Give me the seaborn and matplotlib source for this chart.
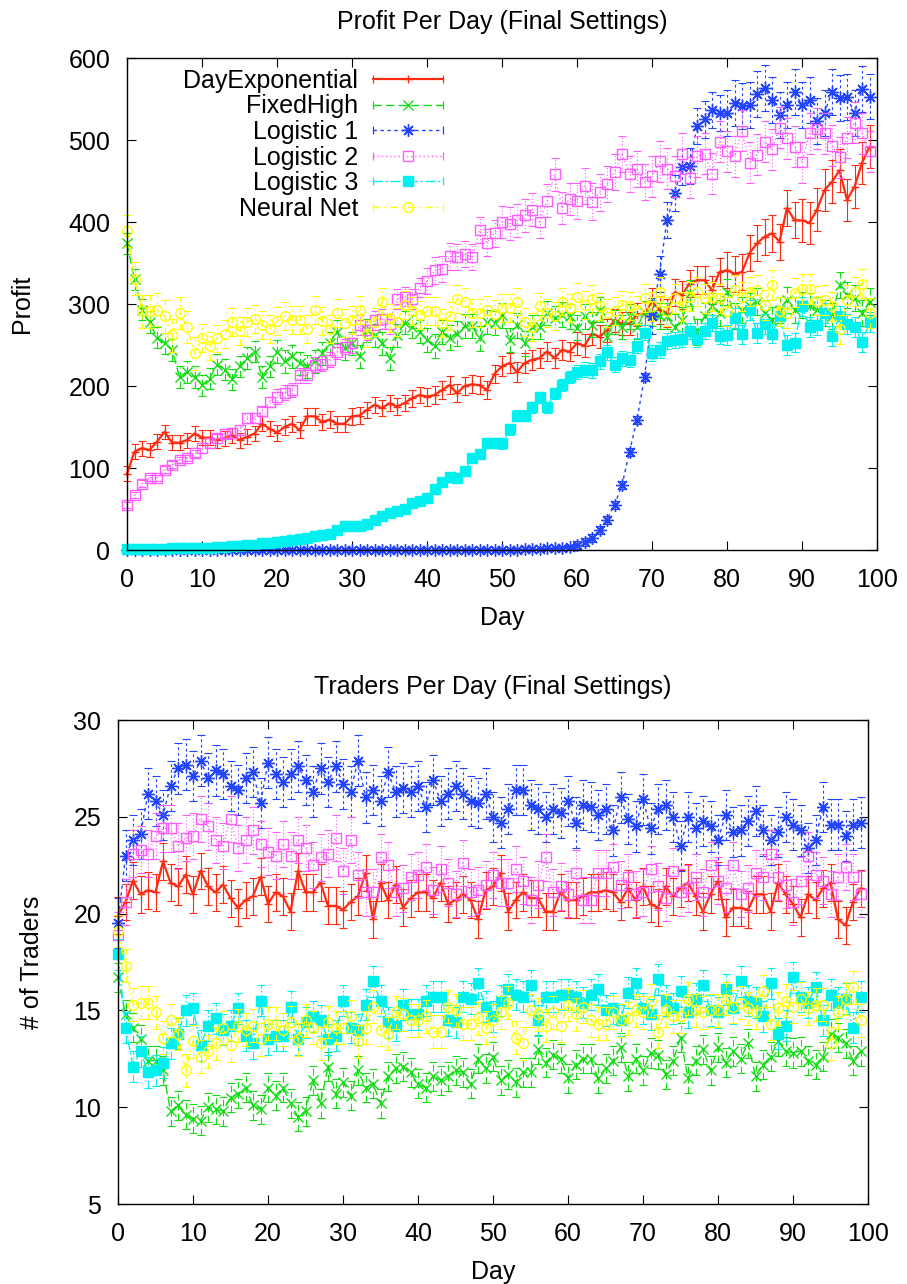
import numpy as np
import pandas as pd
import matplotlib
matplotlib.use("Agg")
import matplotlib.pyplot as plt
import seaborn as sns
from matplotlib.lines import Line2D
from matplotlib.legend_handler import HandlerBase

# ---------------- data ----------------
days = list(range(100))
series_names = ["DayExponential", "FixedHigh", "Logistic 1", "Logistic 2", "Logistic 3", "Neural Net"]

profit_dayexp = [93, 120, 124, 122, 132, 144, 131, 131, 134, 142,
                 137, 137, 134, 136, 140, 134, 138, 142, 154, 148,
                 143, 150, 154, 146, 163, 163, 156, 159, 154, 154,
                 163, 164, 171, 177, 173, 179, 175, 179, 185, 189,
                 187, 189, 195, 201, 191, 200, 202, 201, 195, 215,
                 224, 228, 217, 228, 232, 234, 242, 234, 244, 242,
                 252, 249, 264, 260, 268, 280, 276, 276, 287, 289,
                 303, 293, 289, 314, 311, 325, 329, 329, 317, 339,
                 341, 337, 339, 362, 374, 382, 386, 376, 417, 402,
                 402, 399, 415, 439, 449, 463, 427, 443, 472, 492]
profit_fixedhigh = [374, 330, 293, 278, 259, 252, 244, 211, 217, 211,
                    201, 209, 226, 220, 208, 224, 234, 242, 211, 224,
                    242, 230, 236, 228, 224, 230, 240, 252, 266, 246,
                    252, 236, 268, 262, 252, 234, 262, 277, 272, 266,
                    256, 249, 266, 259, 264, 273, 273, 258, 278, 277,
                    286, 256, 274, 252, 272, 272, 289, 283, 287, 285,
                    271, 285, 275, 293, 260, 278, 272, 285, 272, 289,
                    289, 285, 285, 272, 280, 313, 266, 285, 297, 289,
                    315, 285, 293, 297, 303, 289, 280, 293, 305, 293,
                    299, 297, 293, 289, 285, 323, 311, 307, 289, 303]
profit_logistic1 = [0, 0, 0, 0, 0, 0, 0, 0, 0, 0,
                    0, 0, 0, 0, 0, 0, 0, 0, 0, 0,
                    0, 0, 0, 0, 0, 0, 0, 0, 0, 0,
                    0, 0, 0, 0, 0, 0, 0, 0, 0, 0,
                    0, 0, 0, 0, 0, 0, 0, 0, 0, 0,
                    0.5, 0.5, 0.5, 1, 1, 1, 2, 2, 3, 4,
                    6, 10, 15, 24, 37, 55, 79, 120, 159, 211,
                    285, 337, 402, 435, 467, 468, 517, 525, 537, 533,
                    533, 545, 541, 543, 556, 563, 549, 530, 543, 558,
                    543, 549, 523, 533, 559, 551, 552, 533, 562, 553]
profit_logistic2 = [55, 67, 81, 88, 88, 98, 104, 110, 112, 118,
                    124, 130, 136, 142, 143, 146, 161, 161, 169, 181,
                    187, 192, 195, 213, 213, 226, 227, 232, 242, 248,
                    252, 274, 268, 280, 282, 276, 306, 309, 306, 320,
                    328, 341, 343, 358, 357, 361, 357, 390, 375, 386,
                    400, 398, 402, 408, 415, 400, 426, 458, 417, 428,
                    426, 444, 425, 436, 446, 461, 483, 459, 465, 449,
                    456, 474, 465, 456, 483, 454, 480, 483, 459, 498,
                    486, 480, 511, 472, 482, 498, 489, 515, 502, 492,
                    473, 508, 514, 508, 493, 479, 503, 521, 508, 486]
profit_logistic3 = [1, 1, 1, 1, 1, 1, 2, 2, 2, 3,
                    3, 3, 4, 4, 5, 5, 6, 6, 8, 8,
                    10, 11, 12, 14, 15, 17, 18, 20, 24, 29,
                    29, 29, 32, 37, 41, 45, 47, 50, 57, 60,
                    63, 74, 83, 89, 88, 96, 112, 117, 130, 130,
                    130, 147, 164, 164, 174, 186, 174, 191, 201, 211,
                    217, 220, 219, 230, 241, 226, 234, 232, 249, 265,
                    240, 244, 255, 256, 257, 267, 257, 267, 277, 261,
                    262, 283, 263, 293, 265, 276, 264, 285, 250, 253,
                    297, 272, 274, 289, 261, 285, 276, 272, 254, 278]
profit_neural = [389, 331, 291, 291, 293, 285, 262, 289, 272, 240,
                 259, 249, 258, 263, 278, 267, 278, 282, 274, 269,
                 279, 285, 280, 280, 270, 293, 279, 270, 289, 277,
                 280, 293, 264, 278, 303, 283, 278, 299, 291, 287,
                 291, 291, 277, 285, 306, 303, 289, 289, 293, 288,
                 295, 295, 303, 278, 272, 297, 289, 285, 303, 295,
                 309, 299, 306, 297, 289, 291, 299, 298, 293, 307,
                 297, 315, 291, 307, 297, 309, 315, 307, 309, 307,
                 291, 317, 309, 315, 317, 299, 323, 291, 289, 314,
                 318, 318, 304, 305, 297, 269, 305, 315, 325, 289]

# error bar half-widths, one value per block of ten days
profit_err_dayexp = [9, 9, 10, 10, 11, 12, 14, 17, 22, 26]
profit_err_fixedhigh = [13, 13, 14, 14, 15, 15, 15, 16, 16, 16]
profit_err_logistic1 = [0, 0, 0, 0, 0, 0.5, 5, 22, 28, 28]
profit_err_logistic2 = [4, 6, 9, 12, 16, 20, 22, 25, 25, 25]
profit_err_logistic3 = [0.5, 1, 1.5, 3, 5, 7, 9, 10, 12, 12]
profit_err_neural = [20, 17, 17, 17, 17, 17, 17, 18, 18, 18]

traders_dayexp = [19.9, 20.6, 21.7, 21.0, 21.2, 21.1, 22.7, 21.6, 21.4, 22.0,
                  21.0, 22.2, 21.4, 21.1, 21.5, 20.8, 20.3, 20.7, 20.9, 21.9,
                  20.5, 21.1, 20.9, 20.1, 22.2, 21.1, 21.1, 21.6, 20.4, 20.4,
                  20.2, 20.6, 20.9, 22.1, 19.7, 21.6, 20.7, 21.5, 20.3, 20.8,
                  21.1, 21.1, 20.8, 21.6, 20.5, 20.7, 21.0, 20.7, 19.7, 21.2,
                  21.4, 22.1, 20.1, 20.7, 21.1, 20.8, 20.8, 20.1, 20.1, 21.1,
                  20.7, 20.7, 20.9, 21.1, 21.1, 21.2, 21.1, 20.6, 21.3, 20.7,
                  21.4, 20.5, 20.3, 21.4, 20.9, 21.3, 21.6, 20.9, 20.1, 21.0,
                  21.7, 19.8, 20.3, 20.3, 20.2, 21.0, 21.0, 20.1, 21.6, 21.0,
                  20.5, 19.8, 21.0, 20.7, 21.3, 21.6, 19.7, 19.4, 20.6, 21.3]
traders_fixedhigh = [16.7, 14.8, 14.1, 13.5, 12.4, 12.4, 11.9, 9.8, 10.1, 9.6,
                     9.4, 9.3, 10.0, 9.9, 9.8, 10.5, 10.7, 11.0, 10.1, 9.9,
                     11.0, 10.6, 11.0, 10.2, 9.5, 9.8, 11.4, 10.2, 12.1, 10.7,
                     11.3, 10.6, 11.9, 11.0, 11.2, 10.2, 11.6, 12.0, 12.1, 11.8,
                     11.2, 11.0, 11.6, 11.4, 11.6, 11.9, 11.8, 11.2, 12.5, 12.0,
                     12.6, 11.4, 11.7, 11.3, 11.8, 11.8, 13.0, 12.3, 12.7, 12.5,
                     11.5, 12.2, 12.5, 12.5, 11.5, 12.0, 12.4, 13.1, 11.6, 12.5,
                     11.9, 12.8, 12.7, 11.7, 12.4, 13.6, 11.5, 12.4, 13.0, 11.9,
                     13.1, 12.3, 12.9, 12.5, 13.3, 11.6, 12.2, 12.6, 13.4, 12.9,
                     12.8, 12.9, 12.4, 12.2, 12.6, 13.8, 13.6, 13.3, 12.4, 12.9]
traders_logistic1 = [19.5, 23.0, 23.8, 24.1, 26.2, 25.8, 25.1, 26.6, 27.5, 27.7,
                     27.1, 27.9, 27.0, 27.4, 27.2, 26.6, 26.4, 27.0, 27.3, 25.7,
                     27.8, 27.2, 26.8, 27.2, 27.6, 26.9, 26.3, 27.5, 26.8, 27.6,
                     26.7, 26.3, 27.9, 26.0, 26.4, 25.8, 27.3, 26.3, 26.5, 26.3,
                     26.6, 25.5, 26.9, 25.8, 26.2, 26.6, 26.2, 25.8, 25.7, 26.2,
                     25.0, 24.7, 25.4, 26.4, 26.4, 25.6, 25.4, 25.0, 25.4, 25.2,
                     25.8, 24.7, 25.6, 25.5, 25.1, 25.4, 24.3, 26.0, 24.9, 24.5,
                     25.9, 24.4, 25.4, 25.6, 25.0, 23.5, 25.0, 24.4, 24.8, 24.5,
                     23.8, 25.1, 24.2, 24.3, 24.8, 25.3, 24.3, 23.8, 24.2, 25.0,
                     24.6, 24.3, 23.4, 23.8, 25.5, 24.6, 24.6, 24.0, 24.6, 24.7]
traders_logistic2 = [18.9, 20.6, 23.1, 23.3, 23.1, 24.0, 24.4, 24.4, 23.5, 23.9,
                     24.0, 24.9, 24.5, 23.8, 23.5, 24.9, 23.4, 23.8, 24.3, 23.6,
                     23.2, 23.0, 23.6, 23.0, 23.8, 23.4, 22.5, 22.9, 23.1, 23.9,
                     22.2, 23.8, 22.0, 21.1, 21.1, 22.9, 22.5, 21.1, 21.3, 21.9,
                     22.0, 22.4, 21.2, 22.3, 21.6, 21.0, 22.6, 21.1, 21.2, 21.5,
                     22.0, 21.6, 21.6, 22.3, 21.7, 20.7, 21.5, 22.9, 21.1, 21.4,
                     21.0, 22.1, 20.7, 20.7, 22.1, 22.1, 22.4, 21.5, 21.9, 21.0,
                     21.1, 22.3, 21.4, 20.8, 22.2, 21.1, 21.3, 21.9, 21.1, 22.5,
                     21.7, 21.3, 22.5, 21.0, 21.3, 22.1, 21.9, 23.1, 21.9, 21.5,
                     20.6, 21.7, 23.0, 22.0, 21.7, 21.0, 21.9, 22.4, 21.9, 21.0]
traders_logistic3 = [17.9, 14.1, 12.1, 12.9, 11.8, 11.9, 12.3, 13.3, 13.8, 15.0,
                     15.1, 13.2, 14.2, 14.6, 14.0, 14.2, 15.1, 13.7, 13.3, 15.5,
                     13.5, 13.7, 13.7, 15.2, 13.5, 14.4, 14.7, 14.5, 13.5, 13.7,
                     15.5, 14.1, 14.0, 15.3, 16.5, 15.5, 14.4, 14.2, 15.3, 14.8,
                     14.8, 15.5, 15.7, 15.7, 14.5, 14.4, 15.7, 15.6, 16.4, 15.2,
                     14.7, 15.5, 16.1, 15.8, 15.7, 16.3, 14.5, 15.7, 15.7, 15.8,
                     15.8, 15.7, 15.4, 15.8, 16.1, 15.0, 15.1, 14.5, 15.9, 16.4,
                     15.1, 14.8, 16.6, 15.5, 15.1, 16.0, 14.9, 15.6, 16.3, 15.0,
                     14.9, 16.1, 15.1, 16.5, 15.5, 15.4, 14.7, 16.4, 13.8, 14.2,
                     16.7, 15.7, 15.4, 16.2, 14.5, 15.8, 15.4, 15.6, 14.1, 15.7]
traders_neural = [19.1, 17.3, 15.3, 15.4, 15.4, 14.9, 13.6, 14.5, 13.8, 11.9,
                  13.4, 12.6, 12.9, 13.3, 14.1, 13.2, 14.2, 14.0, 14.2, 13.5,
                  14.3, 14.3, 14.0, 14.4, 13.5, 14.5, 14.1, 13.3, 14.4, 14.1,
                  14.1, 14.7, 13.4, 14.1, 15.2, 14.0, 13.8, 14.9, 14.8, 14.5,
                  14.5, 14.7, 13.9, 13.9, 15.2, 15.0, 14.3, 14.3, 14.6, 14.1,
                  14.5, 14.9, 15.4, 13.6, 13.3, 15.0, 14.8, 14.2, 14.9, 14.2,
                  15.3, 14.8, 15.2, 14.5, 14.3, 14.3, 14.9, 14.5, 14.6, 15.0,
                  14.9, 15.5, 13.9, 15.0, 14.7, 14.7, 15.6, 15.0, 14.9, 15.0,
                  15.0, 15.6, 15.2, 15.4, 15.1, 14.9, 16.0, 14.3, 15.1, 15.5,
                  15.2, 15.6, 15.1, 15.3, 15.3, 13.3, 14.9, 15.6, 16.2, 14.5]

# error bar half-widths (constant per series)
traders_err = [0.95, 0.75, 1.3, 1.2, 0.8, 0.85]

profit_x_ticks = [0, 10, 20, 30, 40, 50, 60, 70, 80, 90, 100]
profit_y_ticks = [0, 100, 200, 300, 400, 500, 600]
traders_y_ticks = [5, 10, 15, 20, 25, 30]

profit_series = [profit_dayexp, profit_fixedhigh, profit_logistic1,
                 profit_logistic2, profit_logistic3, profit_neural]
profit_errs = [profit_err_dayexp, profit_err_fixedhigh, profit_err_logistic1,
               profit_err_logistic2, profit_err_logistic3, profit_err_neural]
traders_series = [traders_dayexp, traders_fixedhigh, traders_logistic1,
                  traders_logistic2, traders_logistic3, traders_neural]

# ---------------- style ----------------
sns.set_theme(style="ticks", rc={
    "axes.edgecolor": "black", "axes.linewidth": 1.0,
    "xtick.color": "black", "ytick.color": "black",
    "text.color": "black", "axes.labelcolor": "black",
})
plt.rcParams["font.family"] = ["Liberation Sans", "DejaVu Sans"]
plt.rcParams["font.size"] = 18

styles = {
    "DayExponential": dict(color="#ff2a10", ls="-", lw=1.6, marker="+", ms=6, mfc="none"),
    "FixedHigh": dict(color="#11dd11", ls=(0, (6, 3)), lw=1.0, marker="x", ms=7, mfc="none"),
    "Logistic 1": dict(color="#2244ff", ls=(0, (2.5, 2.5)), lw=1.0, marker=(8, 2, 0), ms=9, mfc="none"),
    "Logistic 2": dict(color="#ff5cff", ls=(0, (1, 2)), lw=0.9, marker="s", ms=7.5, mfc="none"),
    "Logistic 3": dict(color="#00f0f0", ls=(0, (7, 2, 1.5, 2)), lw=1.0, marker="s", ms=7, mfc="#00f0f0"),
    "Neural Net": dict(color="#ffff00", ls=(0, (5, 3, 1.5, 3)), lw=1.0, marker="o", ms=7, mfc="none"),
}

W, H = 907, 1284
fig = plt.figure(figsize=(W / 100, H / 100), dpi=100)


def px_axes(left, top, right, bottom):
    return fig.add_axes([left / W, 1 - bottom / H, (right - left) / W, (bottom - top) / H])


def draw_panel(ax, series, errs):
    for i, (name, vals) in enumerate(zip(series_names, series)):
        st = styles[name]
        df = pd.DataFrame({"Day": days, "Value": vals})
        err = errs[i]
        sns.lineplot(data=df, x="Day", y="Value", ax=ax, color=st["color"],
                     linestyle=st["ls"], linewidth=st["lw"], marker=st["marker"],
                     markersize=st["ms"], markerfacecolor=st["mfc"],
                     markeredgecolor=st["color"], markeredgewidth=1.0,
                     errorbar=None, clip_on=False, zorder=3 + i, legend=False)
        eb = ax.errorbar(df["Day"], df["Value"], yerr=err, fmt="none",
                         ecolor=st["color"], elinewidth=0.8, capsize=3,
                         capthick=0.8, zorder=2.5 + i, clip_on=False)
        eb.lines[2][0].set_linestyle(st["ls"])


def style_axes(ax):
    ax.set_xlim(0, 100)
    ax.set_xticks(profit_x_ticks)
    ax.tick_params(axis="both", direction="in", length=6.5, width=0.8,
                   top=True, right=True, labelsize=18)
    ax.tick_params(axis="x", pad=13)
    ax.tick_params(axis="y", pad=12)
    for s in ax.spines.values():
        s.set_linewidth(1.0)
        s.set_color("black")
        s.set_zorder(20)


# --- top panel ---
ax1 = px_axes(127, 58, 877, 550)
draw_panel(ax1, profit_series, [np.repeat(e, 10) for e in profit_errs])
style_axes(ax1)
ax1.set_ylim(0, 600)
ax1.set_yticks(profit_y_ticks)
ax1.set_title("Profit Per Day (Final Settings)", fontsize=18, pad=21)
ax1.set_xlabel("Day", fontsize=18, labelpad=10)
ax1.set_ylabel("Profit", fontsize=18, labelpad=25)


class Proxy:
    def __init__(self, st):
        self.st = st


class GnuHandler(HandlerBase):
    def create_artists(self, legend, orig, xdescent, ydescent, width, height, fontsize, trans):
        st = orig.st
        y = (height - ydescent) / 2
        x0, x1 = -xdescent, width - xdescent
        line = Line2D([x0, x1], [y, y], color=st["color"], linestyle=st["ls"],
                      linewidth=st["lw"] if st["ls"] == "-" else 1.0)
        ticks = Line2D([x0, x1], [y, y], linestyle="none", marker="|", markersize=6,
                       markeredgewidth=0.9, color=st["color"])
        mark = Line2D([(x0 + x1) / 2], [y], linestyle="none", marker=st["marker"],
                      markersize=st["ms"], markerfacecolor=st["mfc"],
                      markeredgecolor=st["color"], markeredgewidth=1.0)
        for a in (line, ticks, mark):
            a.set_transform(trans)
        return [line, ticks, mark]


handles = [Proxy(styles[n]) for n in series_names]
leg = ax1.legend(handles, series_names, handler_map={Proxy: GnuHandler()},
                 loc="upper right", bbox_to_anchor=((443 - 127) / 750, (550 - 69) / 492),
                 frameon=False, markerfirst=False, fontsize=18, handlelength=2.8,
                 handletextpad=0.6, labelspacing=0.06, borderpad=0, borderaxespad=0)
leg.set_zorder(30)

# --- bottom panel ---
ax2 = px_axes(118, 720, 868, 1204)
draw_panel(ax2, traders_series, traders_err)
style_axes(ax2)
ax2.set_ylim(5, 30)
ax2.set_yticks(traders_y_ticks)
ax2.set_title("Traders Per Day (Final Settings)", fontsize=18, pad=19)
ax2.set_xlabel("Day", fontsize=18, labelpad=10)
ax2.set_ylabel("# of Traders", fontsize=18, labelpad=21)

fig.savefig("out.png", dpi=100)
